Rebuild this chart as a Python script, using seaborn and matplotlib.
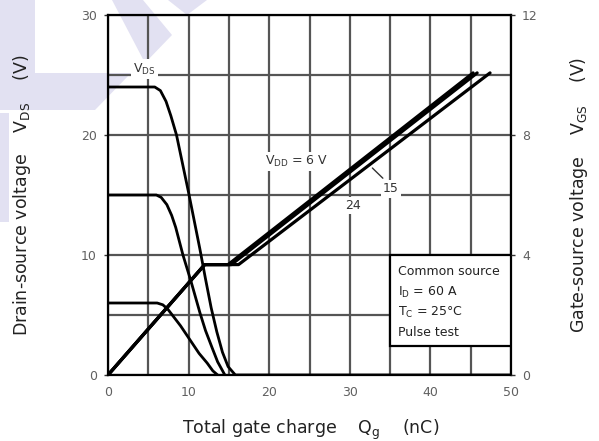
import matplotlib
matplotlib.use("Agg")
import matplotlib.pyplot as plt
from matplotlib.patches import Polygon, Rectangle
import numpy as np
import pandas as pd
import seaborn as sns

# ---- data -------------------------------------------------------------
# Drain-source voltage vs total gate charge for three supply voltages
qg_vds24 = [0, 5.8, 6.5, 7.2, 7.8, 8.5, 10.0, 11.4, 12.1, 12.8, 13.5, 14.2, 14.9, 15.8, 50]
vds_24 = [24, 24, 23.7, 22.8, 21.6, 20.0, 15.2, 10.5, 8.0, 5.6, 3.6, 1.9, 0.7, 0, 0]

qg_vds15 = [0, 6.0, 6.6, 7.3, 7.9, 8.4, 9.3, 10.3, 11.4, 12.1, 12.9, 13.6, 14.5]
vds_15 = [15, 15, 14.8, 14.2, 13.3, 12.3, 10.0, 7.8, 5.2, 3.7, 2.3, 1.1, 0]

qg_vds6 = [0, 6.1, 6.8, 7.4, 8.2, 9.0, 10.2, 11.3, 12.3, 13.0, 13.6]
vds_6 = [6, 6, 5.85, 5.5, 4.8, 4.1, 2.9, 1.8, 1.0, 0.35, 0]

# Gate-source voltage vs total gate charge (right axis)
qg_vgs6 = [0, 12.0, 14.9, 45.3]
vgs_6 = [0, 3.68, 3.68, 10.07]
qg_vgs15 = [0, 12.0, 15.3, 45.8]
vgs_15 = [0, 3.68, 3.68, 10.07]
qg_vgs24 = [0, 12.0, 16.2, 47.4]
vgs_24 = [0, 3.68, 3.68, 10.07]

x_ticks = [0, 10, 20, 30, 40, 50]
vds_ticks = [0, 10, 20, 30]
vgs_ticks = [0, 4, 8, 12]

conditions = ["Common source",
              r"I$_\mathregular{D}$ = 60 A",
              r"T$_\mathregular{C}$ = 25°C",
              "Pulse test"]

# ---- figure -----------------------------------------------------------
sns.set_style("white")
plt.rcParams["font.family"] = ["DejaVu Sans"]

W, H = 599, 441
fig = plt.figure(figsize=(W / 100, H / 100), dpi=100)
fig.patch.set_facecolor("white")


def px(x, y):
    return (x / W, 1 - y / H)


# light logo shapes in the upper-left corner
lav = "#e2e1f2"
for pts in [
    [(0, 0), (35, 0), (35, 73), (131, 73), (95, 110), (0, 110)],
    [(0, 113), (9, 113), (9, 222), (0, 222)],
    [(112, 0), (143, 0), (172, 35), (145, 63)],
    [(168, 0), (207, 0), (187, 15)],
]:
    fig.patches.append(Polygon([px(*p) for p in pts], closed=True,
                               transform=fig.transFigure, facecolor=lav,
                               edgecolor="none", zorder=-5))

ax = fig.add_axes([108 / W, 1 - 375 / H, (511 - 108) / W, (375 - 15) / H])
ax.set_facecolor("none")
ax.set_xlim(0, 50)
ax.set_ylim(0, 30)

grid_col = "#555555"
ax.set_xticks(x_ticks)
ax.set_xticks(np.arange(5, 50, 10), minor=True)
ax.set_yticks(vds_ticks)
ax.set_yticks([5, 15, 25], minor=True)
ax.grid(True, which="both", color=grid_col, linewidth=1.6)
ax.tick_params(axis="both", which="major", labelsize=9, labelcolor="#606060",
               length=3, width=1, color="#333333", pad=5)
ax.tick_params(axis="both", which="minor", length=0)
for s in ax.spines.values():
    s.set_color("black")
    s.set_linewidth(1.6)

line_kw = dict(color="black", linewidth=2.0, sort=False, estimator=None)
for qx, vy in [(qg_vds24, vds_24), (qg_vds15, vds_15), (qg_vds6, vds_6)]:
    sns.lineplot(x=qx, y=vy, ax=ax, **line_kw)

# right axis for the gate-source voltage
ax2 = ax.twinx()
ax2.set_ylim(0, 12)
ax2.set_yticks(vgs_ticks)
ax2.tick_params(axis="y", labelsize=9, labelcolor="#606060", length=3,
                width=1, color="#333333", pad=5)
ax2.grid(False)
for s in ax2.spines.values():
    s.set_visible(False)
vgs_kw = dict(line_kw, linewidth=2.3)
for qx, vy in [(qg_vgs24, vgs_24), (qg_vgs15, vgs_15), (qg_vgs6, vgs_6)]:
    sns.lineplot(x=qx, y=vy, ax=ax2, **vgs_kw)

# test condition box
ax.add_patch(Rectangle((35, 2.4), 15, 7.6, facecolor="white",
                       edgecolor="black", linewidth=1.6, zorder=3))
for i, t in enumerate(conditions):
    ax.text(36.0, 8.6 - i * 1.68, t, fontsize=9, color="#222222",
            va="center", ha="left", zorder=4)

# curve labels
box = dict(facecolor="white", edgecolor="none", pad=1.5)
ax.text(4.5, 25.5, r"V$_\mathregular{DS}$", fontsize=9, ha="center",
        va="center", color="#333333", bbox=box, zorder=3)
ax.text(23.4, 17.8, r"V$_\mathregular{DD}$ = 6 V", fontsize=9,
        ha="center", va="center", color="#333333", bbox=box, zorder=3)
ax.text(35.1, 15.5, "15", fontsize=9, ha="center", va="center",
        color="#333333", bbox=box, zorder=3)
ax.text(30.4, 14.1, "24", fontsize=9, ha="center", va="center",
        color="#333333", bbox=box, zorder=3)
ax.plot([32.8, 34.1], [17.25, 16.4], color="#333333", linewidth=1.0, zorder=3)

# axis titles
fig.text(*px(22, 195), r"Drain-source voltage    V$_\mathregular{DS}$    (V)",
         rotation=90, ha="center", va="center", fontsize=12.5, color="#222222")
fig.text(*px(579, 195), r"Gate-source voltage    V$_\mathregular{GS}$    (V)",
         rotation=90, ha="center", va="center", fontsize=12.5, color="#222222")
fig.text(*px(311, 430), r"Total gate charge    Q$_\mathregular{g}$    (nC)",
         ha="center", va="center", fontsize=12.5, color="#222222")

fig.savefig("out.png", dpi=100)
